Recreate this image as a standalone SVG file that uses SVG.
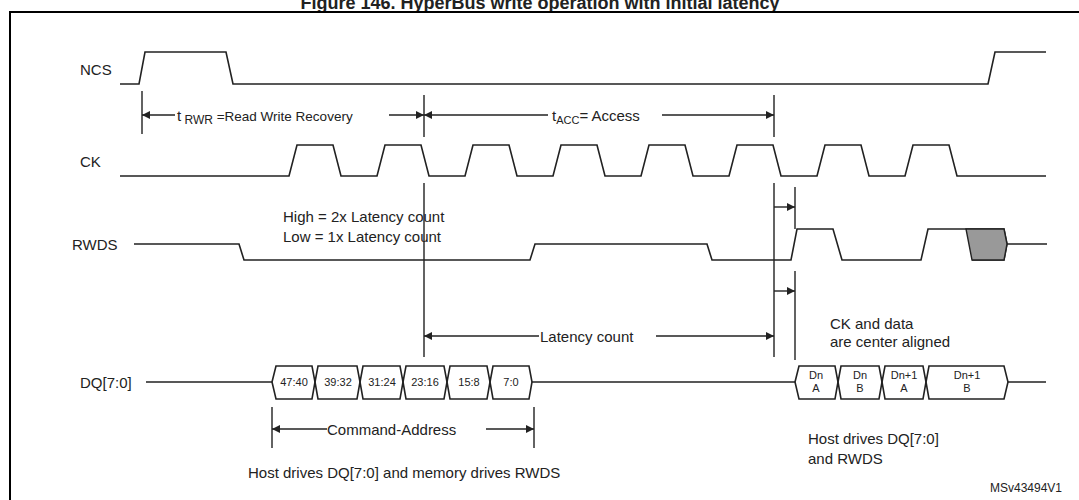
<svg xmlns="http://www.w3.org/2000/svg" width="1079" height="500" viewBox="0 0 1079 500">
<defs>
<marker id="ar" viewBox="0 0 10 10" refX="10" refY="5" markerWidth="12" markerHeight="8" markerUnits="userSpaceOnUse" orient="auto-start-reverse"><path d="M0,0 L10,5 L0,10 z" fill="#222"/></marker>
<style>
.w{fill:none;stroke:#222;stroke-width:1.6}
.t{font-family:"Liberation Sans",Arial,sans-serif;fill:#222}
.l{font-size:15px}
.s{font-size:12px}
.b{font-size:11px;text-anchor:middle}
.a{stroke:#222;stroke-width:1.4;fill:none}
</style>
</defs>
<rect width="1079" height="500" fill="#fff"/>
<text class="t" x="540" y="9" font-size="18" font-weight="bold" text-anchor="middle">Figure 146. HyperBus write operation with initial latency</text>
<path d="M10,505 V12 H1085" fill="none" stroke="#000" stroke-width="2"/>

<g id="ncs">
<text class="t l" x="80" y="75">NCS</text>
<path class="w" d="M120,84 H139 L145,52 H226 L233,84 H988 L995,52 H1046"/>
</g>
<g id="ck">
<text class="t l" x="80" y="167">CK</text>
<path class="w" d="M120,176 H289 L297,145 H333 L341,176 H377 L385,145 H421 L429,176 H465 L473,145 H509 L517,176 H553 L561,145 H597 L605,176 H641 L649,145 H685 L693,176 H729 L737,145 H773 L781,176 H817 L825,145 H861 L869,176 H905 L913,145 H949 L957,176 H1046"/>
</g>
<g id="rwds">
<text class="t l" x="72" y="250">RWDS</text>
<path class="w" d="M134,244 H239 L244,260 H530 L535,244 H707 L712,260 H791 L797,229 H833 L842,260 H921 L928,229 H1004 L1007,244 L1004,260 H972 M1007,244 H1047"/>
<path d="M966,229 H1004 L1007,244 L1004,260 H972 Z" fill="#999" stroke="#222" stroke-width="1.4"/>
<text class="t l" x="283" y="222">High = 2x Latency count</text>
<text class="t l" x="283" y="242">Low = 1x Latency count</text>
</g>
<g id="dq">
<text class="t l" x="80" y="388">DQ[7:0]</text>
<path class="w" d="M146,382 H272 M532,382 H795 M1008,382 H1046"/>
<g class="w">
<path d="M272,382 L276,366 H312 L315,382 L312,399 H276 Z"/>
<path d="M315,382 L318,366 H357 L360,382 L357,399 H318 Z"/>
<path d="M360,382 L363,366 H400 L403,382 L400,399 H363 Z"/>
<path d="M403,382 L406,366 H444 L447,382 L444,399 H406 Z"/>
<path d="M447,382 L450,366 H487 L490,382 L487,399 H450 Z"/>
<path d="M490,382 L493,366 H529 L532,382 L529,399 H493 Z"/>
<path d="M795,382 L799,366 H835 L838,382 L835,399 H799 Z"/>
<path d="M838,382 L841,366 H879 L882,382 L879,399 H841 Z"/>
<path d="M882,382 L885,366 H923 L926,382 L923,399 H885 Z"/>
<path d="M926,382 L929,366 H1004 L1008,382 L1004,399 H929 Z"/>
</g>
<text class="t b" x="294" y="386">47:40</text>
<text class="t b" x="338" y="386">39:32</text>
<text class="t b" x="382" y="386">31:24</text>
<text class="t b" x="425" y="386">23:16</text>
<text class="t b" x="469" y="386">15:8</text>
<text class="t b" x="511" y="386">7:0</text>
<text class="t b" x="816" y="379">Dn</text><text class="t b" x="816" y="392">A</text>
<text class="t b" x="860" y="379">Dn</text><text class="t b" x="860" y="392">B</text>
<text class="t b" x="904" y="379">Dn+1</text><text class="t b" x="904" y="392">A</text>
<text class="t b" x="967" y="379">Dn+1</text><text class="t b" x="967" y="392">B</text>
</g>
<g id="connectors">
<path class="a" d="M142,91 V134 M424,95 V137 M774,95 V137 M424,183 V357 M774,183 V357 M795,187 V229 M795,271 V360 M272,407 V448 M534,407 V448"/>
<path class="a" d="M175,115 H142" marker-end="url(#ar)"/>
<path class="a" d="M389,115 H424" marker-end="url(#ar)"/>
<path class="a" d="M548,115 H424" marker-end="url(#ar)"/>
<path class="a" d="M662,115 H774" marker-end="url(#ar)"/>
<path class="a" d="M774,207 H795" marker-end="url(#ar)"/>
<path class="a" d="M774,291 H795" marker-end="url(#ar)"/>
<path class="a" d="M539,336 H424" marker-end="url(#ar)"/>
<path class="a" d="M656,336 H774" marker-end="url(#ar)"/>
<path class="a" d="M327,429 H272" marker-end="url(#ar)"/>
<path class="a" d="M486,429 H534" marker-end="url(#ar)"/>
</g>
<g id="labels">
<text class="t l" x="177" y="121">t<tspan font-size="12" dy="3"> RWR</tspan><tspan dy="-3" font-size="13.5"> =Read Write Recovery</tspan></text>
<text class="t l" x="552" y="121">t<tspan font-size="11" dy="3">ACC</tspan><tspan dy="-3">= Access</tspan></text>
<text class="t l" x="540" y="342">Latency count</text>
<text class="t l" x="327" y="435">Command-Address</text>
<text class="t l" x="248" y="478">Host drives DQ[7:0] and memory drives RWDS</text>
<text class="t l" x="830" y="329">CK and data</text>
<text class="t l" x="830" y="347">are center aligned</text>
<text class="t l" x="808" y="444">Host drives DQ[7:0]</text>
<text class="t l" x="808" y="464">and RWDS</text>
<text class="t s" x="990" y="492">MSv43494V1</text>
</g>
</svg>
